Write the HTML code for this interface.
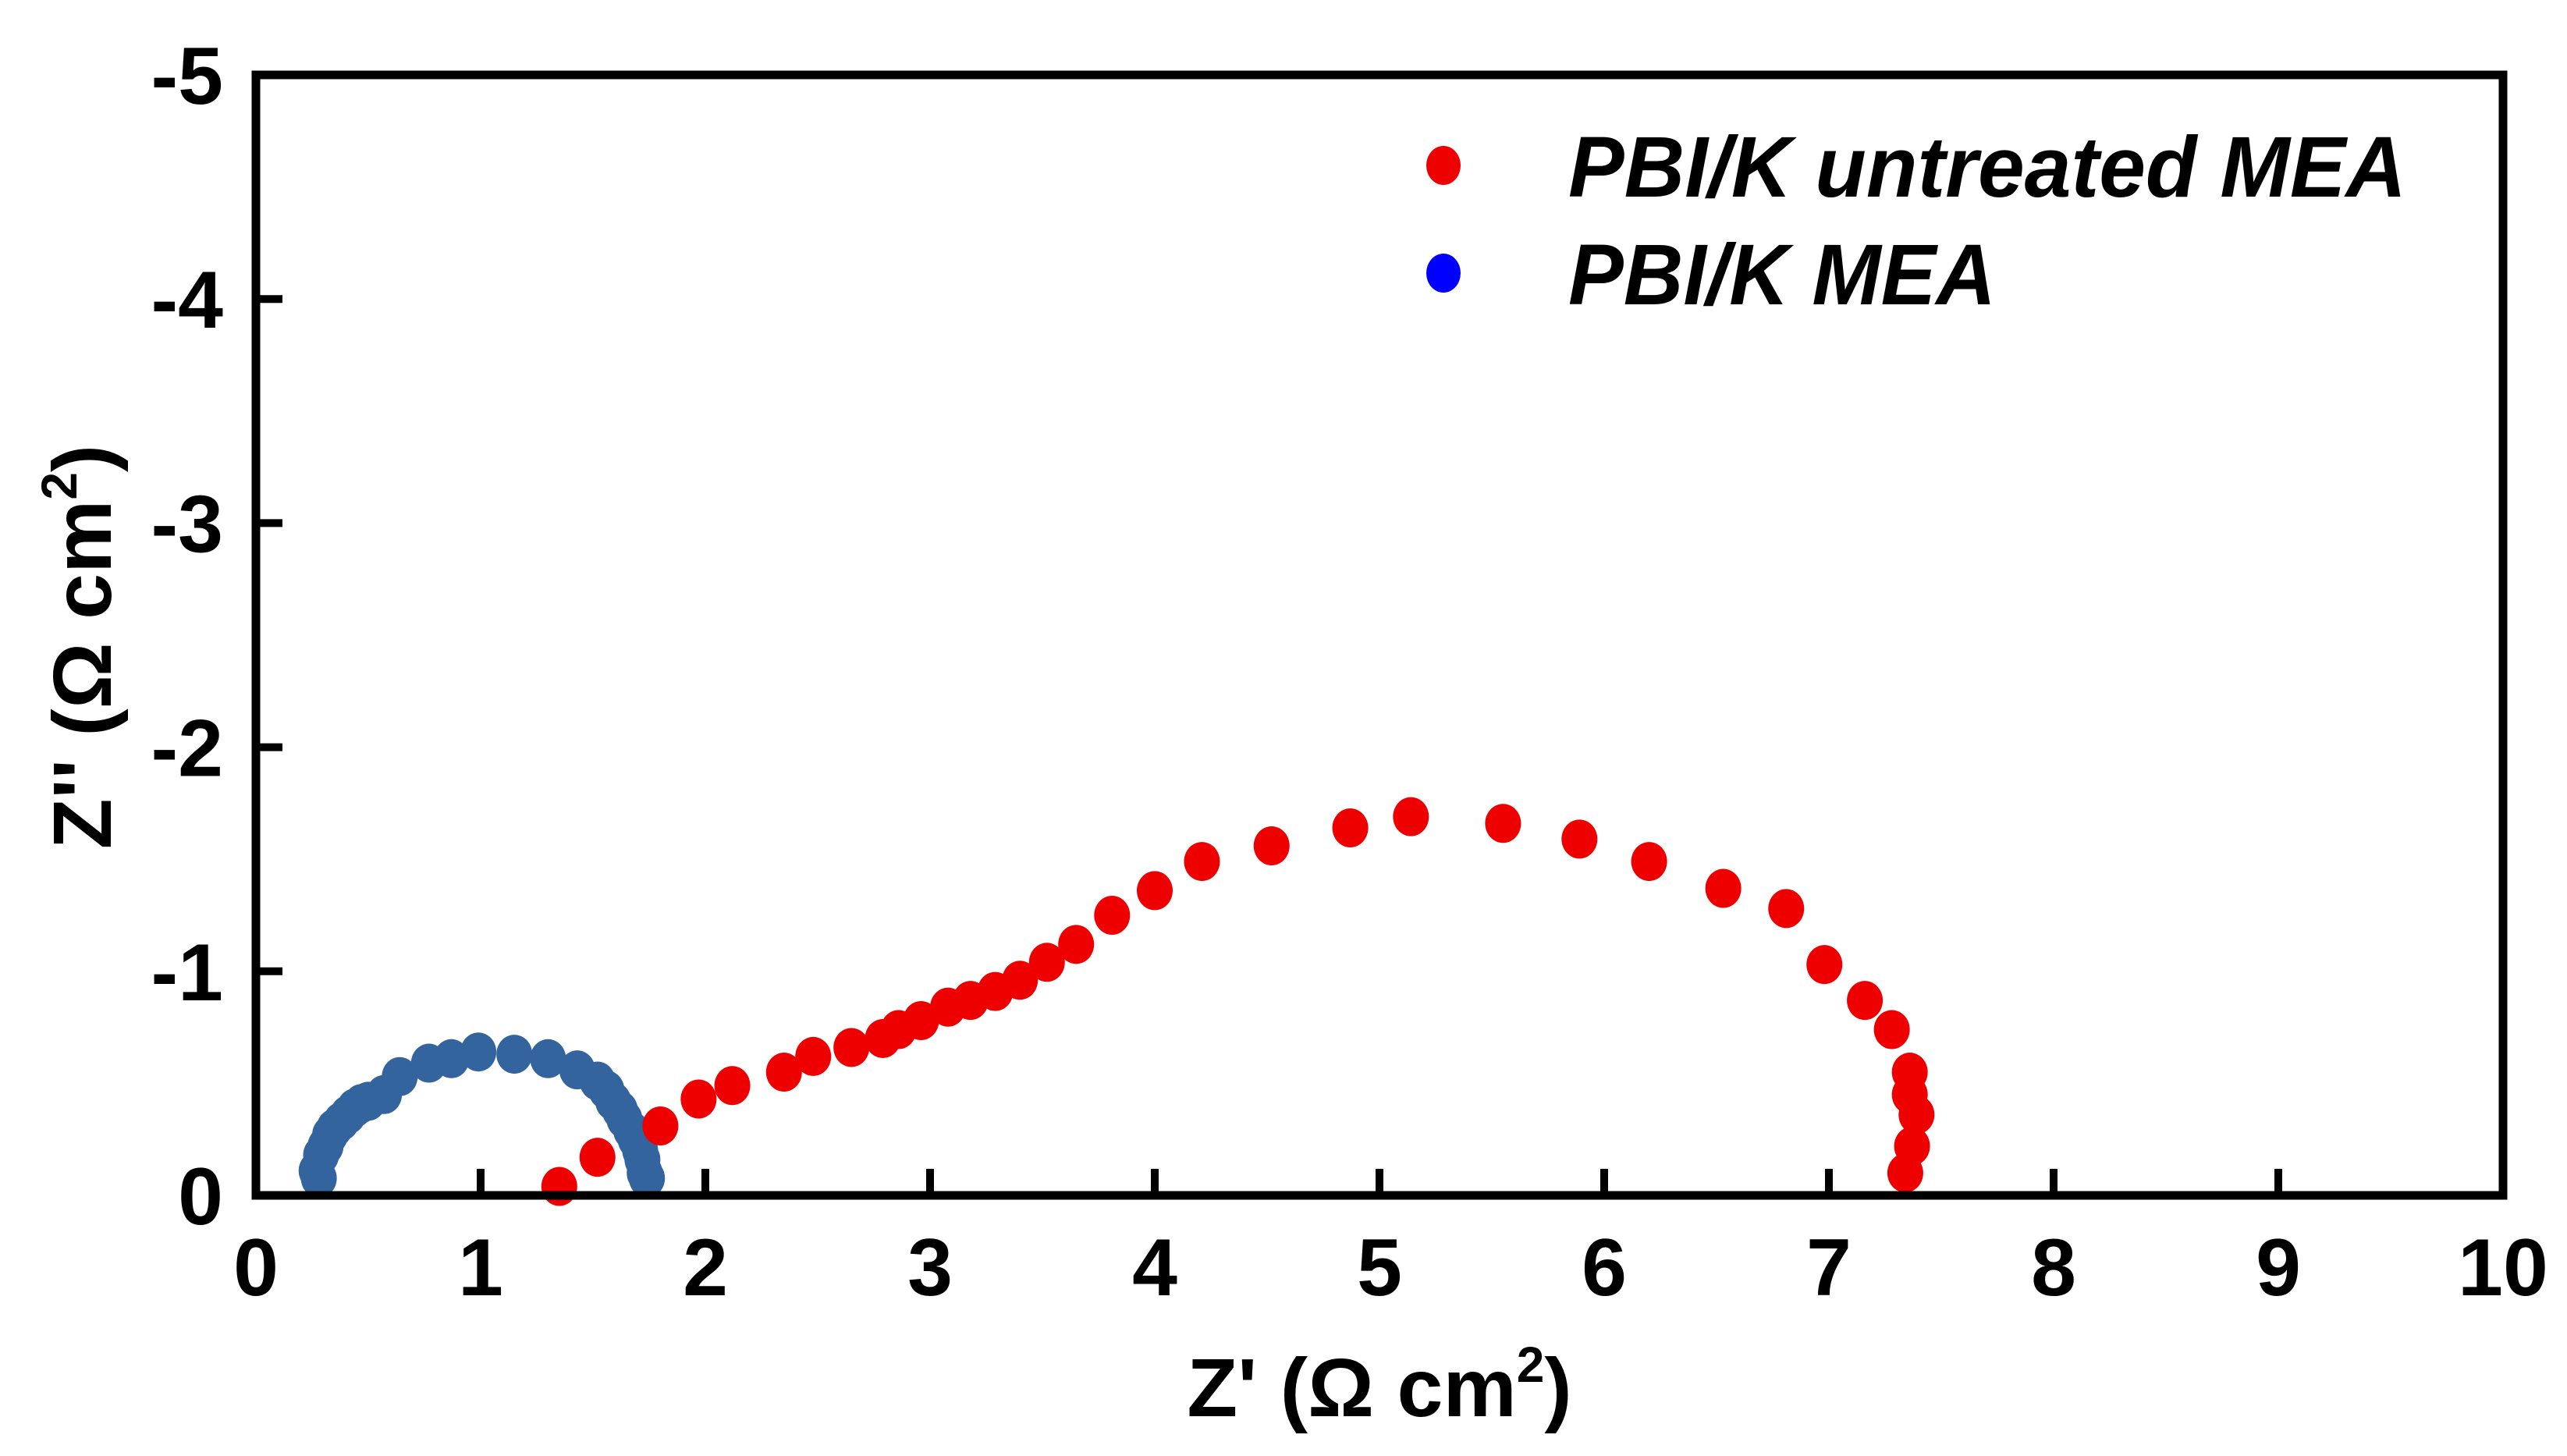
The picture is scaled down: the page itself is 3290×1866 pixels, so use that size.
<!DOCTYPE html>
<html><head><meta charset="utf-8"><style>
html,body{margin:0;padding:0;background:#fff;}
svg{display:block;font-family:"Liberation Sans",Arial,sans-serif;}
</style></head><body>
<svg id="chart" width="3290" height="1866" viewBox="0 0 3290 1866" xmlns="http://www.w3.org/2000/svg">
<g id="marks"></g>
<rect x="328" y="96" width="2880" height="1436" fill="none" stroke="#000" stroke-width="11"/>
<g id="ticks"></g>
<text x="1768" y="1815" font-size="106" font-weight="bold" text-anchor="middle">Z' (Ω cm<tspan font-size="64" dy="-44">2</tspan><tspan dy="44">)</tspan></text>
<text transform="translate(142,829) rotate(-90)" font-size="106" font-weight="bold" text-anchor="middle">Z'' (Ω cm<tspan font-size="64" dy="-44">2</tspan><tspan dy="44">)</tspan></text>
<g>
<ellipse cx="1850" cy="212" rx="22" ry="25" fill="#ee0000"/>
<text x="2010" y="252" font-size="110" font-weight="bold" font-style="italic" textLength="1074" lengthAdjust="spacingAndGlyphs">PBI/K untreated MEA</text>
<ellipse cx="1850" cy="350" rx="22" ry="25" fill="#0000ff"/>
<text x="2010" y="390" font-size="110" font-weight="bold" font-style="italic" textLength="548" lengthAdjust="spacingAndGlyphs">PBI/K MEA</text>
</g>
</svg>
<script>
const xTicks=[0,1,2,3,4,5,6,7,8,9,10];
const yTicks=[0,-1,-2,-3,-4,-5];
const untreatedX=[1.35,1.52,1.80,1.97,2.12,2.35,2.48,2.65,2.79,2.86,2.96,3.08,3.18,3.29,3.40,3.52,3.65,3.81,4.00,4.21,4.52,4.87,5.14,5.55,5.89,6.20,6.53,6.81,6.98,7.16,7.28,7.36,7.36,7.39,7.37,7.34];
const untreatedY=[-0.04,-0.17,-0.31,-0.43,-0.49,-0.55,-0.62,-0.66,-0.70,-0.74,-0.78,-0.84,-0.87,-0.91,-0.96,-1.04,-1.12,-1.25,-1.36,-1.49,-1.56,-1.64,-1.69,-1.66,-1.59,-1.49,-1.37,-1.28,-1.03,-0.87,-0.74,-0.55,-0.45,-0.36,-0.22,-0.10];
const treatedX=[0.28,0.27,0.29,0.31,0.33,0.35,0.38,0.41,0.44,0.47,0.50,0.57,0.64,0.77,0.87,0.99,1.15,1.30,1.43,1.52,1.56,1.59,1.62,1.64,1.67,1.69,1.71,1.72,1.73,1.74,1.74];
const treatedY=[-0.04,-0.11,-0.18,-0.22,-0.27,-0.30,-0.33,-0.36,-0.39,-0.41,-0.42,-0.45,-0.53,-0.59,-0.61,-0.64,-0.63,-0.61,-0.56,-0.51,-0.47,-0.42,-0.38,-0.34,-0.29,-0.25,-0.20,-0.16,-0.10,-0.05,-0.01];
const NS='http://www.w3.org/2000/svg';
const X0=328,X1=3208,Y0=1532,Y1=96;
function sx(v){return X0+(v-0)/(10-0)*(X1-X0);}
function sy(v){return Y0+(v-0)/(-5-0)*(Y1-Y0);}
const marks=document.getElementById('marks'),ticks=document.getElementById('ticks');
for(let i=0;i<treatedX.length;i++){
 const c=document.createElementNS(NS,'ellipse');
 
 
 c.setAttribute('cx',sx(treatedX[i]));c.setAttribute('cy',Math.min(sy(treatedY[i]),Y0-22));c.setAttribute('rx',23);c.setAttribute('ry',25);c.setAttribute('fill','#33649e');
 marks.appendChild(c);
}
for(let i=0;i<untreatedX.length;i++){
 const c=document.createElementNS(NS,'ellipse');
 
 
 c.setAttribute('cx',sx(untreatedX[i]));c.setAttribute('cy',sy(untreatedY[i]));c.setAttribute('rx',23);c.setAttribute('ry',25);c.setAttribute('fill','#ee0000');
 marks.appendChild(c);
}
xTicks.forEach(v=>{
 const l=document.createElementNS(NS,'line');
 
 
 l.setAttribute('x1',sx(v));l.setAttribute('x2',sx(v));l.setAttribute('y1',Y0);l.setAttribute('y2',Y0-34);l.setAttribute('stroke','#000');l.setAttribute('stroke-width',10);
 ticks.appendChild(l);
 const t=document.createElementNS(NS,'text');
 
 
 t.setAttribute('x',sx(v));t.setAttribute('y',1660);t.setAttribute('font-size',104);t.setAttribute('font-weight','bold');t.setAttribute('text-anchor','middle');
 t.textContent=v;ticks.appendChild(t);
});
yTicks.forEach(v=>{
 const l=document.createElementNS(NS,'line');
 
 
 l.setAttribute('x1',X0);l.setAttribute('x2',X0+34);l.setAttribute('y1',sy(v));l.setAttribute('y2',sy(v));l.setAttribute('stroke','#000');l.setAttribute('stroke-width',10);
 ticks.appendChild(l);
 const t=document.createElementNS(NS,'text');
 
 
 t.setAttribute('x',286);t.setAttribute('y',sy(v)+37);t.setAttribute('font-size',104);t.setAttribute('font-weight','bold');t.setAttribute('text-anchor','end');
 t.textContent=v;ticks.appendChild(t);
});
</script>
</body></html>
